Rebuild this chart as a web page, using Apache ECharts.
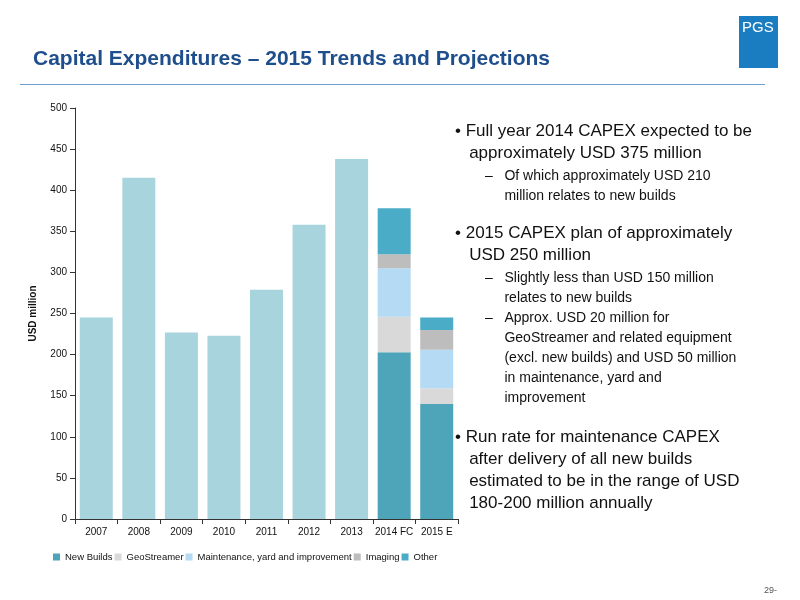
<!DOCTYPE html><html><head><meta charset="utf-8"><script src="https://cdn.jsdelivr.net/npm/echarts@6/dist/echarts.min.js"></script></head><body style="margin:0"><div id="c" style="width:800px;height:600px"></div><script>
const categories=['2007','2008','2009','2010','2011','2012','2013','2014 FC','2015 E'];
const newBuilds=[245,415,227,223,279,358,438,203,140];
const geoStreamer=[0,0,0,0,0,0,0,43,19];
const maintenance=[0,0,0,0,0,0,0,59,47];
const imaging=[0,0,0,0,0,0,0,17,24];
const other=[0,0,0,0,0,0,0,56,15];
const histColor='#a8d4de';
const names=['New Builds','GeoStreamer','Maintenance, yard and improvement','Imaging','Other'];
const colors=['#4ea5b9','#d9d9d9','#b5daf3','#bdbdbd','#4aacc6'];
const datas=[newBuilds,geoStreamer,maintenance,imaging,other];
const series=datas.map((d,i)=>({name:names[i],type:'bar',stack:'a',barWidth:33,itemStyle:{color:colors[i]},
 data:d.map((v,j)=>i===0&&j<7?{value:v,itemStyle:{color:histColor}}:v)}));
const tf='Liberation Sans, Arial, sans-serif';
const bullets=[
 {t:'• Full year 2014 CAPEX expected to be\n   approximately USD 375 million',y:120,s:17},
 {t:'–   Of which approximately USD 210\n     million relates to new builds',y:166,s:14},
 {t:'• 2015 CAPEX plan of approximately\n   USD 250 million',y:222,s:17},
 {t:'–   Slightly less than USD 150 million\n     relates to new builds',y:268,s:14},
 {t:'–   Approx. USD 20 million for\n     GeoStreamer and related equipment\n     (excl. new builds) and USD 50 million\n     in maintenance, yard and\n     improvement',y:308,s:14},
 {t:'• Run rate for maintenance CAPEX\n   after delivery of all new builds\n   estimated to be in the range of USD\n   180-200 million annually',y:426,s:17}];
const g=[
 {type:'text',left:33,top:49,style:{text:'Capital Expenditures – 2015 Trends and Projections',font:'bold 21px '+tf,fill:'#1f4e8c'}},
 {type:'rect',shape:{x:20,y:84,width:745,height:1},style:{fill:'#6a9fd0'}},
 {type:'rect',shape:{x:739,y:16,width:39,height:52},style:{fill:'#1a7cc1'}},
 {type:'text',left:742,top:20,style:{text:'PGS',font:'15px '+tf,fill:'#fff'}},
 {type:'text',left:764,top:586,style:{text:'29-',font:'9px '+tf,fill:'#555'}}
];
bullets.forEach((b,i)=>{const ind=b.s===14?30:0;g.push({type:'text',left:455+ind,top:b.y,style:{text:b.t,font:b.s+'px '+tf,fill:'#111',lineHeight:b.s===14?20:22}});});
const ch=echarts.init(document.getElementById('c'));
ch.setOption({animation:false,textStyle:{fontFamily:tf},
grid:{left:75,right:342,top:108,bottom:81},
legend:{left:48,top:547,itemWidth:7,itemHeight:7,itemGap:2,icon:'rect',textStyle:{fontSize:9.5,color:'#111'},data:names},
xAxis:{type:'category',data:categories,axisLine:{lineStyle:{color:'#333'}},axisTick:{show:true,interval:0},axisLabel:{fontSize:10,color:'#111',interval:0}},
yAxis:{type:'value',min:0,max:500,interval:50,name:'USD million',nameLocation:'middle',nameGap:37,nameTextStyle:{fontSize:10,fontWeight:'bold',color:'#111'},
 axisLine:{show:true,lineStyle:{color:'#333'}},axisTick:{show:true},splitLine:{show:false},axisLabel:{fontSize:10,color:'#111'}},
series:series,graphic:g});
</script></body></html>
